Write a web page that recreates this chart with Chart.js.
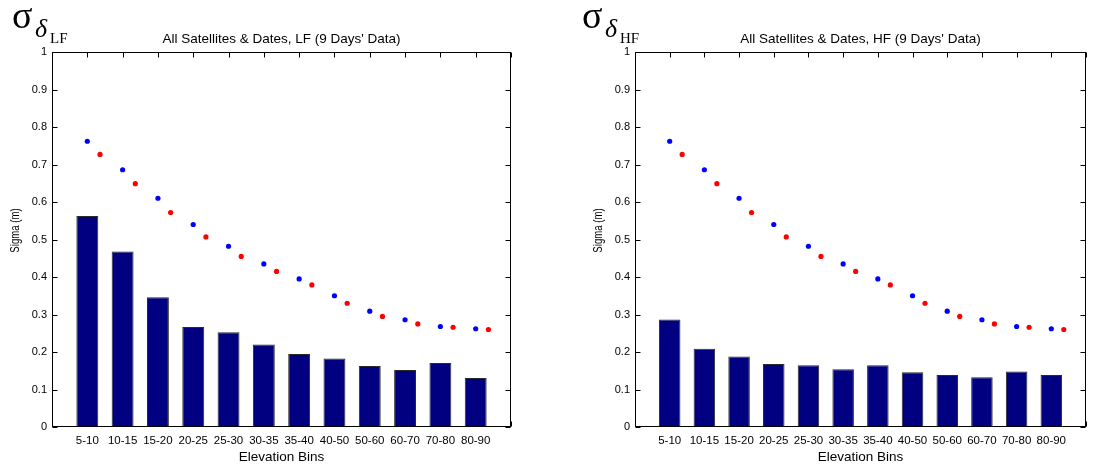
<!DOCTYPE html>
<html>
<head>
<meta charset="utf-8">
<script src="https://cdn.jsdelivr.net/npm/chart.js@4"></script>
<style>
  body { margin: 0; background: #fff; }
  #wrap { position: relative; width: 1093px; height: 469px; overflow: hidden; }
  canvas { position: absolute; top: 0; }
  .sym { position: absolute; font-family: "Liberation Serif", "DejaVu Serif", serif; line-height: 1; color: #000; white-space: nowrap; }
</style>
</head>
<body>
<div id="wrap">
  <canvas id="lfChart" width="546" height="469" style="left:0px"></canvas>
  <canvas id="hfChart" width="547" height="469" style="left:546px"></canvas>

  <span class="sym" style="left:12px;top:-4px;font-size:38px">σ</span>
  <span class="sym" style="left:35px;top:16px;font-size:26px;font-style:italic">δ</span>
  <span class="sym" style="left:50px;top:31px;font-size:15px">LF</span>

  <span class="sym" style="left:582px;top:-4px;font-size:38px">σ</span>
  <span class="sym" style="left:605px;top:16px;font-size:26px;font-style:italic">δ</span>
  <span class="sym" style="left:620px;top:31px;font-size:15px">HF</span>
</div>
<script>
// elevation bins (x categories)
const bins = ['5-10', '10-15', '15-20', '20-25', '25-30', '30-35', '35-40', '40-50', '50-60', '60-70', '70-80', '80-90'];

// measured sigma per bin (bars)
const lfSigma = [0.563, 0.468, 0.346, 0.267, 0.253, 0.220, 0.195, 0.183, 0.163, 0.152, 0.171, 0.131];
const hfSigma = [0.287, 0.209, 0.188, 0.168, 0.165, 0.154, 0.165, 0.146, 0.139, 0.133, 0.148, 0.139];

// model curves (dots), blue sits on the bin, red is shifted right
const blueSigma = [0.762, 0.686, 0.610, 0.540, 0.482, 0.435, 0.395, 0.350, 0.309, 0.286, 0.268, 0.262];
const redSigma = [0.727, 0.649, 0.572, 0.507, 0.455, 0.415, 0.379, 0.330, 0.295, 0.275, 0.266, 0.260];
const redShift = 0.36;

const yTicks = [0, 0.1, 0.2, 0.3, 0.4, 0.5, 0.6, 0.7, 0.8, 0.9, 1];

const font = "'Liberation Sans', Arial, sans-serif";

// matlab style box with inward ticks, plus the y label
const axesBox = {
  id: 'axesBox',
  beforeDatasetsDraw(chart) {
    const {ctx, chartArea: a, scales} = chart;
    const L = Math.round(a.left) + 0.5, R = Math.round(a.right) - 0.5;
    const T = Math.round(a.top) + 0.5, B = Math.round(a.bottom) - 0.5;
    ctx.save();
    ctx.strokeStyle = '#000';
    ctx.lineWidth = 1;
    ctx.beginPath();
    yTicks.forEach(v => {
      const y = Math.round(scales.y.getPixelForValue(v)) + 0.5;
      ctx.moveTo(L, y); ctx.lineTo(L + 5, y);
      ctx.moveTo(R, y); ctx.lineTo(R - 5, y);
    });
    for (let i = 0; i <= bins.length + 1; i++) {
      const x = Math.round(scales.x.getPixelForValue(i)) + 0.5;
      ctx.moveTo(x, T); ctx.lineTo(x, T + 5);
      ctx.moveTo(x, B); ctx.lineTo(x, B - 5);
    }
    ctx.stroke();
    ctx.restore();
  },
  afterDatasetsDraw(chart) {
    const {ctx, chartArea: a} = chart;
    const L = Math.round(a.left) + 0.5, R = Math.round(a.right) - 0.5;
    const T = Math.round(a.top) + 0.5, B = Math.round(a.bottom) - 0.5;
    ctx.save();
    ctx.strokeStyle = '#000';
    ctx.lineWidth = 1;
    ctx.strokeRect(L, T, R - L, B - T);

    // rotated, slightly condensed axis label
    ctx.translate(a.left - 36, (a.top + a.bottom) / 2 - 9);
    ctx.rotate(-Math.PI / 2);
    ctx.scale(0.8, 1);
    ctx.fillStyle = '#000';
    ctx.font = '12px ' + font;
    ctx.textAlign = 'center';
    ctx.textBaseline = 'middle';
    ctx.fillText('Sigma (m)', 0, 0);
    ctx.restore();
  }
};

function makeChart(id, titleText, bars, padLeft, padRight) {
  const barPts = bars.map((v, i) => ({x: i + 1, y: v}));
  const bluePts = blueSigma.map((v, i) => ({x: i + 1, y: v}));
  const redPts = redSigma.map((v, i) => ({x: i + 1 + redShift, y: v}));

  return new Chart(document.getElementById(id), {
    type: 'bar',
    data: {
      datasets: [{
        type: 'scatter',
        data: bluePts,
        backgroundColor: '#0000ff',
        borderWidth: 0,
        pointRadius: 2.6,
        order: 1
      }, {
        type: 'scatter',
        data: redPts,
        backgroundColor: '#ff0000',
        borderWidth: 0,
        pointRadius: 2.6,
        order: 1
      }, {
        data: barPts,
        backgroundColor: '#000080',
        borderColor: '#2a2a2a',
        borderWidth: 1,
        barPercentage: 0.62,
        categoryPercentage: 1,
        order: 2
      }]
    },
    options: {
      responsive: false,
      animation: false,
      layout: { padding: { left: padLeft, right: padRight, top: 0, bottom: 0 } },
      plugins: {
        legend: { display: false },
        tooltip: { enabled: false },
        title: {
          display: true,
          fullSize: false,
          text: titleText,
          color: '#000',
          font: { family: font, size: 13.5, weight: 'normal', lineHeight: 1.2 },
          padding: { top: 31.5, bottom: 4.3 }
        }
      },
      scales: {
        x: {
          type: 'linear',
          min: 0,
          max: bins.length + 1,
          offset: false,
          grid: { display: false, drawTicks: false },
          border: { display: false },
          afterFit: s => { s.height = 42; },
          ticks: {
            stepSize: 1,
            autoSkip: false,
            maxRotation: 0,
            padding: 7,
            color: '#000',
            font: { family: font, size: 11.5 },
            callback: v => (v >= 1 && v <= bins.length) ? bins[v - 1] : ''
          },
          title: {
            display: true,
            text: 'Elevation Bins',
            color: '#000',
            font: { family: font, size: 13.5 },
            padding: { top: 0, bottom: 4 }
          }
        },
        y: {
          min: 0,
          max: 1,
          grid: { display: false, drawTicks: false },
          border: { display: false },
          afterFit: s => { s.width = 52; },
          ticks: {
            stepSize: 0.1,
            padding: 5,
            color: '#000',
            font: { family: font, size: 11 },
            callback: v => (v === 0 || v === 1) ? String(v) : v.toFixed(1)
          }
        }
      }
    },
    plugins: [axesBox]
  });
}

makeChart('lfChart', "All Satellites & Dates, LF (9 Days' Data)", lfSigma, 0, 35);
makeChart('hfChart', "All Satellites & Dates, HF (9 Days' Data)", hfSigma, 37, 2);
</script>
</body>
</html>
